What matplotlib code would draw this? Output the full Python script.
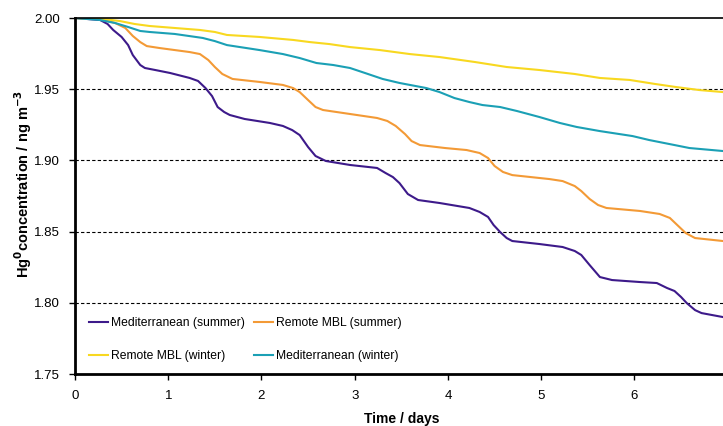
import matplotlib
matplotlib.use("Agg")
from matplotlib import pyplot as plt

plt.rcParams['font.family'] = ['Liberation Sans', 'DejaVu Sans']

# values (time in days, Hg0 in ng m-3)
t_med_summer = [0.00, 0.27, 0.35, 0.41, 0.50, 0.57, 0.62, 0.70, 0.75, 0.86, 1.02, 1.23, 1.32, 1.40,
                1.47, 1.53, 1.60, 1.66, 1.82, 2.09, 2.23, 2.33, 2.41, 2.50, 2.58, 2.69, 2.95, 3.24,
                3.33, 3.41, 3.48, 3.57, 3.68, 3.91, 4.23, 4.34, 4.43, 4.49, 4.56, 4.63, 4.69, 4.98,
                5.23, 5.36, 5.43, 5.52, 5.63, 5.76, 6.06, 6.24, 6.35, 6.43, 6.50, 6.56, 6.65, 6.72, 6.95]
med_summer = [2.0000, 1.9986, 1.9958, 1.9916, 1.9867, 1.9810, 1.9740, 1.9670, 1.9649, 1.9635, 1.9614,
              1.9579, 1.9558, 1.9508, 1.9452, 1.9375, 1.9340, 1.9319, 1.9291, 1.9263, 1.9242, 1.9213,
              1.9178, 1.9094, 1.9031, 1.8996, 1.8968, 1.8947, 1.8912, 1.8883, 1.8841, 1.8764, 1.8722,
              1.8701, 1.8666, 1.8638, 1.8603, 1.8546, 1.8497, 1.8455, 1.8434, 1.8413, 1.8392, 1.8364,
              1.8336, 1.8265, 1.8181, 1.8160, 1.8146, 1.8139, 1.8104, 1.8083, 1.8041, 1.7999, 1.7949,
              1.7928, 1.7900]

t_rem_summer = [0.00, 0.27, 0.43, 0.54, 0.62, 0.70, 0.77, 0.91, 1.23, 1.34, 1.43, 1.50, 1.58, 1.69,
                1.98, 2.23, 2.34, 2.41, 2.50, 2.58, 2.66, 2.95, 3.24, 3.35, 3.44, 3.54, 3.61, 3.70,
                3.97, 4.20, 4.34, 4.43, 4.50, 4.59, 4.69, 5.09, 5.23, 5.36, 5.43, 5.52, 5.61, 5.70,
                6.06, 6.27, 6.38, 6.46, 6.55, 6.65, 6.95]
rem_summer = [2.0000, 1.9993, 1.9965, 1.9930, 1.9874, 1.9831, 1.9803, 1.9789, 1.9761, 1.9747, 1.9705,
              1.9656, 1.9607, 1.9572, 1.9551, 1.9530, 1.9508, 1.9480, 1.9424, 1.9375, 1.9354, 1.9326,
              1.9298, 1.9277, 1.9242, 1.9185, 1.9136, 1.9108, 1.9087, 1.9073, 1.9052, 1.9017, 1.8961,
              1.8919, 1.8897, 1.8869, 1.8855, 1.8820, 1.8785, 1.8729, 1.8687, 1.8666, 1.8645, 1.8624,
              1.8596, 1.8546, 1.8490, 1.8455, 1.8434]

t_rem_winter = [0.00, 0.30, 0.48, 0.64, 0.80, 1.07, 1.34, 1.50, 1.63, 1.98, 2.34, 2.52, 2.73, 2.95,
                3.27, 3.59, 3.91, 4.29, 4.63, 4.98, 5.36, 5.63, 5.95, 6.22, 6.45, 6.70, 6.95]
rem_winter = [2.0000, 1.9993, 1.9979, 1.9958, 1.9944, 1.9930, 1.9916, 1.9902, 1.9881, 1.9867, 1.9846,
              1.9831, 1.9817, 1.9796, 1.9775, 1.9747, 1.9726, 1.9691, 1.9656, 1.9635, 1.9607, 1.9579,
              1.9565, 1.9537, 1.9515, 1.9494, 1.9480]

t_med_winter = [0.00, 0.27, 0.43, 0.57, 0.70, 0.80, 1.07, 1.37, 1.50, 1.63, 1.98, 2.23, 2.41, 2.59,
                2.77, 2.95, 3.11, 3.30, 3.48, 3.77, 3.91, 4.07, 4.23, 4.37, 4.56, 4.74, 4.98, 5.20,
                5.38, 5.63, 5.98, 6.16, 6.43, 6.59, 6.95]
med_winter = [2.0000, 1.9986, 1.9965, 1.9937, 1.9909, 1.9902, 1.9888, 1.9860, 1.9838, 1.9810, 1.9775,
              1.9747, 1.9719, 1.9684, 1.9670, 1.9649, 1.9614, 1.9572, 1.9544, 1.9508, 1.9480, 1.9438,
              1.9410, 1.9389, 1.9375, 1.9347, 1.9305, 1.9263, 1.9235, 1.9206, 1.9171, 1.9143, 1.9108,
              1.9087, 1.9066]

x_ticks = [0, 1, 2, 3, 4, 5, 6]
y_ticks = [1.75, 1.80, 1.85, 1.90, 1.95, 2.00]

fig = plt.figure(figsize=(7.23, 4.26), dpi=100)
ax = fig.add_axes([0.1037, 0.122, 0.8963, 0.8357])

l1, = ax.plot(t_med_summer, med_summer, color='#3d1a8a', lw=1.5, label='Mediterranean (summer)')
l2, = ax.plot(t_rem_summer, rem_summer, color='#f39a36', lw=1.5, label='Remote MBL (summer)')
l3, = ax.plot(t_rem_winter, rem_winter, color='#f8d820', lw=1.5, label='Remote MBL (winter)')
l4, = ax.plot(t_med_winter, med_winter, color='#1ba0b5', lw=1.5, label='Mediterranean (winter)')

for yv in y_ticks[1:-1]:
    ax.axhline(yv, color='black', lw=0.8, ls=(0, (3, 2)), zorder=0)

ax.set_xlim(0, 6.95)
ax.set_ylim(1.75, 2.00)
ax.set_xticks(x_ticks)
ax.set_yticks(y_ticks)
ax.set_yticklabels(['%.2f' % v for v in y_ticks])
ax.tick_params(axis='both', labelsize=9.5, direction='out', length=4, width=1)
ax.tick_params(axis='x', pad=7.5)
ax.tick_params(axis='y', pad=7)

ax.spines['right'].set_visible(False)
ax.spines['left'].set_linewidth(2)
ax.spines['bottom'].set_linewidth(2)
ax.spines['top'].set_linewidth(1.2)

ax.set_xlabel('Time / days', fontsize=10, fontweight='bold')
ax.set_ylabel('Hg$^{\\mathbf{0}}$concentration / ng m$^{\\mathbf{-3}}$', fontsize=10.5,
              fontweight='bold')
ax.xaxis.set_label_coords(0.505, -0.107)
ax.yaxis.set_label_coords(-0.063, 0.534)

ax.legend(handles=[l1, l3, l2, l4], ncol=2, frameon=False, fontsize=8.7,
          loc='lower left', bbox_to_anchor=(0.012, 0.017), labelspacing=1.75,
          columnspacing=0.75, handlelength=1.6, handletextpad=0.25, borderpad=0)

plt.savefig('out.png', dpi=100)
